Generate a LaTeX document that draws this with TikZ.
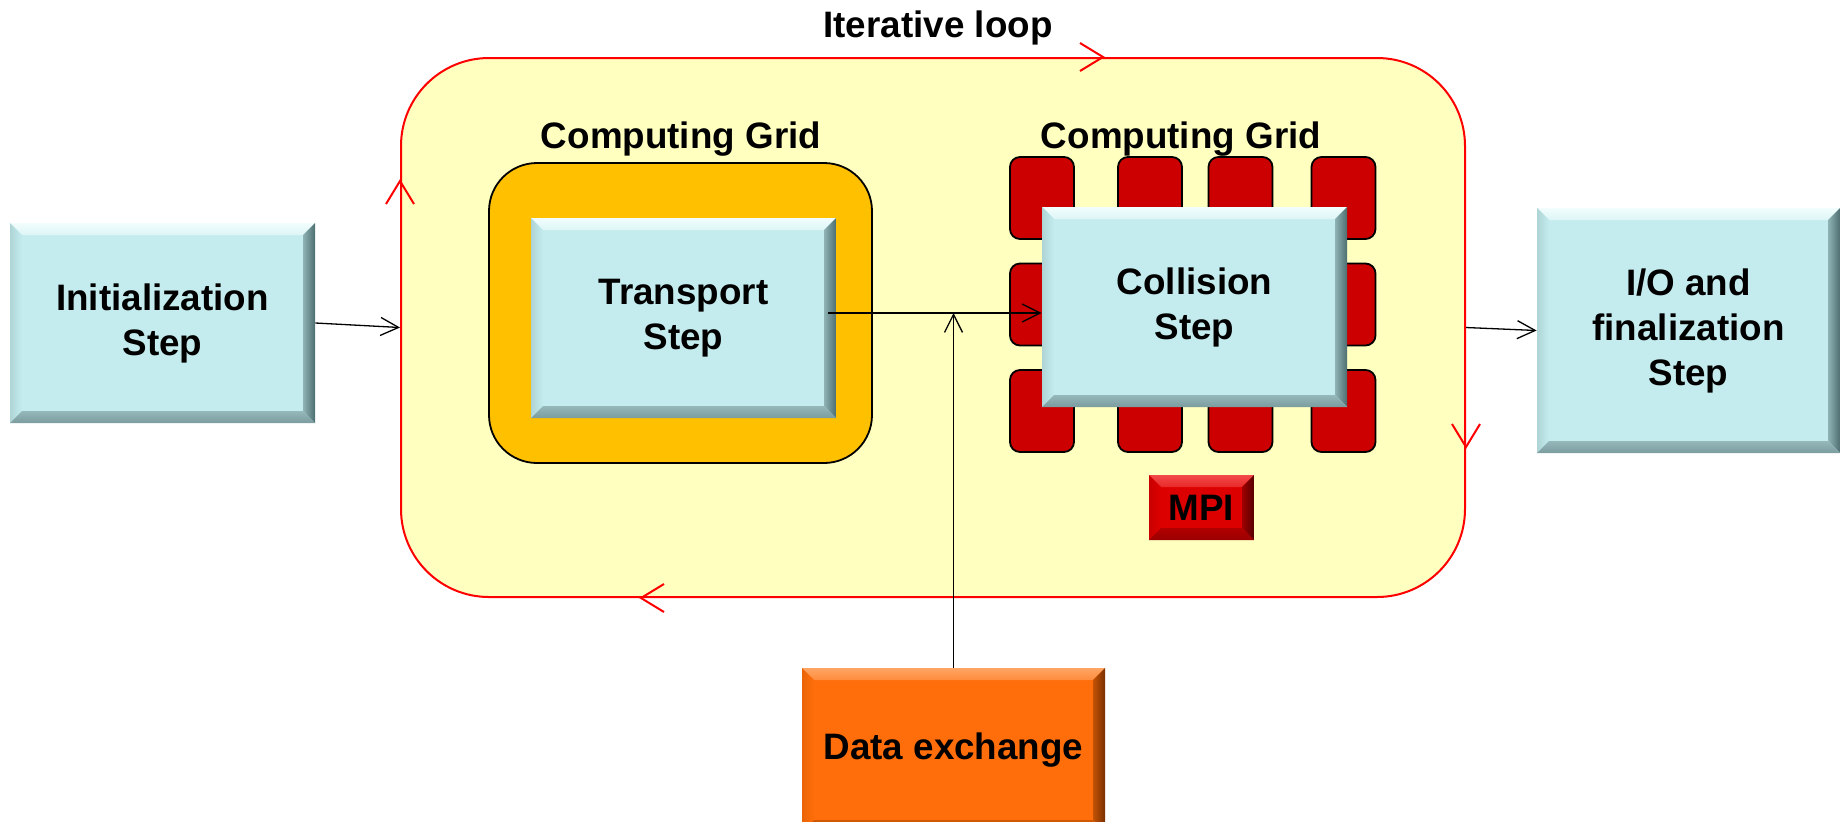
\documentclass[tikz,border=0pt]{standalone}
\usepackage{fontspec}
\setmainfont{Liberation Sans}
\usetikzlibrary{arrows.meta,calc}

\definecolor{loopfill}{HTML}{FFFFC0}
\definecolor{gridgold}{HTML}{FFC000}
\definecolor{cellred}{HTML}{CC0000}
\definecolor{stepcyan}{HTML}{C4ECEE}
\definecolor{stepcyanhi}{HTML}{F2FDFD}
\definecolor{stepcyanside}{HTML}{4E6E70}
\definecolor{stepcyanlow}{HTML}{7C9C9E}
\definecolor{xorange}{HTML}{FF6E0A}
\definecolor{xorangehi}{HTML}{FFA565}
\definecolor{xorangeside}{HTML}{7A3000}
\definecolor{xorangelow}{HTML}{B84E00}
\definecolor{mpired}{HTML}{DD0000}
\definecolor{mpiredhi}{HTML}{F24A4A}
\definecolor{mpiredside}{HTML}{550000}
\definecolor{mpiredlow}{HTML}{9A0000}

\tikzset{
  txt/.style={font=\bfseries\fontsize{18.4}{22.5}\selectfont, align=center, inner sep=0pt},
  % raised (bevelled) box: fill, light edge, dark right edge, dark bottom edge
  bevelbox/.style n args={4}{
    txt, fill=#1, draw=none,
    path picture={
      \path (path picture bounding box.north west) coordinate (pNW)
            (path picture bounding box.north east) coordinate (pNE)
            (path picture bounding box.south west) coordinate (pSW)
            (path picture bounding box.south east) coordinate (pSE);
      \shade[top color=#2, bottom color=#2!55!#1]
        (pNW) -- (pNE) -- ($(pNE)+(-6pt,-6pt)$) -- ($(pNW)+(6pt,-6pt)$) -- cycle;
      \shade[left color=#1!70!#4, right color=#1]
        (pNW) -- ($(pNW)+(6pt,-6pt)$) -- ($(pSW)+(6pt,6pt)$) -- (pSW) -- cycle;
      \shade[left color=#3!45!#1, right color=#3]
        (pNE) -- (pSE) -- ($(pSE)+(-6pt,6pt)$) -- ($(pNE)+(-6pt,-6pt)$) -- cycle;
      \shade[top color=#4!65!#1, bottom color=#4]
        (pSW) -- (pSE) -- ($(pSE)+(-6pt,6pt)$) -- ($(pSW)+(6pt,6pt)$) -- cycle;
    }
  },
  stepbox/.style={bevelbox={stepcyan}{stepcyanhi}{stepcyanside}{stepcyanlow}},
  xbox/.style={bevelbox={xorange}{xorangehi}{xorangeside}{xorangelow}},
  mpibox/.style={bevelbox={mpired}{mpiredhi}{mpiredside}{mpiredlow}},
  loopbox/.style={draw=red, fill=loopfill, line width=1pt, rounded corners=44pt},
  loopline/.style={draw=red, line width=1pt},
  gridbox/.style={draw=black, fill=gridgold, line width=0.9pt, rounded corners=24pt},
  cell/.style={draw=black, fill=cellred, line width=0.9pt, rounded corners=5pt,
    minimum width=32pt, minimum height=41pt},
  arr/.style={draw=black, line width=0.65pt, -{Straight Barb[length=9pt,width=9pt]}},
}

\begin{document}
\begin{tikzpicture}[x=0.5pt, y=-0.5pt]
\clip (0,0) rectangle (1843,821);

% iterative loop region
\node[loopbox, minimum width=532pt, minimum height=269.5pt] (loop) at (933,327.5) {};
\node[txt, anchor=base] (iterlbl) at (938,37) {Iterative loop};

% first computing grid with the transport step
\node[txt, anchor=base] (gridAlbl) at (681,148) {Computing Grid};
\node[gridbox, minimum width=191.5pt, minimum height=150pt] (gridA) at (680.5,313) {};
\node[stepbox, minimum width=152.5pt, minimum height=100pt] (trans) at (683.5,318) {Transport\\Step};

% second computing grid: decomposed cells behind the collision step
\node[txt, anchor=base] (gridBlbl) at (1181,148) {Computing Grid};
\foreach \cx [count=\i] in {1042,1150,1240.5,1343.5}
  \foreach \cy [count=\j] in {198,304.5,411}
    \node[cell] (cell-\i-\j) at (\cx,\cy) {};
\node[stepbox, minimum width=152.5pt, minimum height=100pt] (coll) at (1194.5,307) {Collision\\Step};
\node[mpibox, minimum width=52.5pt, minimum height=32.5pt] (mpi) at (1201.5,507.5) {MPI};

% outer steps
\node[stepbox, minimum width=152.5pt, minimum height=100pt] (init) at (162.5,323) {Initialization\\Step};
\node[stepbox, minimum width=151.5pt, minimum height=122.5pt] (io) at (1688.5,330.5) {I/O and\\finalization\\Step};
\node[xbox, minimum width=151.5pt, minimum height=82pt] (dx) at (953.5,750) {Data exchange};

% connectors
\coordinate (jn) at (dx.north |- 0,313);
\draw[arr] ($(trans.east |- jn)+(-8,0)$) -- (coll.west |- jn);
\draw[arr] (dx.north) -- (jn);
\draw[arr] (init.east) -- (loop.west);
\draw[arr] (loop.east) -- (io.west);

% direction marks on the loop outline
\draw[loopline] ($(loop.north)+(147,-14)$) -- ($(loop.north)+(170,0)$) -- ($(loop.north)+(147,14)$);
\draw[loopline] ($(loop.west)+(-14,-123.5)$) -- ($(loop.west)+(0,-146.5)$) -- ($(loop.west)+(14,-123.5)$);
\draw[loopline] ($(loop.east)+(-14,96.5)$) -- ($(loop.east)+(0,119.5)$) -- ($(loop.east)+(14,96.5)$);
\draw[loopline] ($(loop.south)+(-269,-14)$) -- ($(loop.south)+(-292,0)$) -- ($(loop.south)+(-269,14)$);
\end{tikzpicture}
\end{document}
